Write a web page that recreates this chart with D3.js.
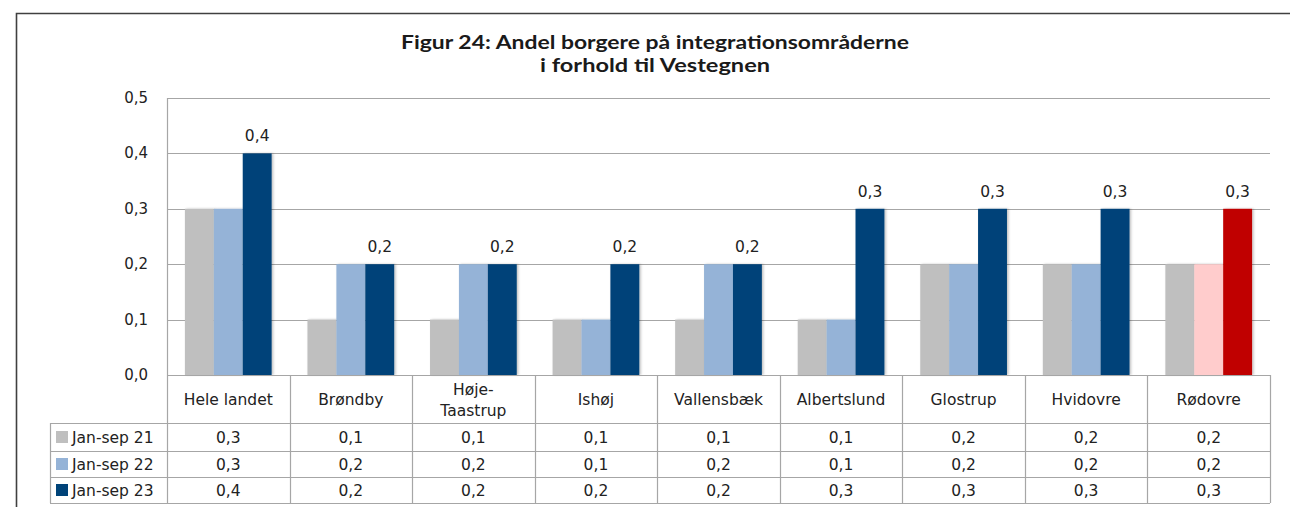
<!DOCTYPE html>
<html><head><meta charset="utf-8">
<script src="https://cdn.jsdelivr.net/npm/d3@7"></script>
<style>body{margin:0;background:#fff}svg{display:block}</style>
</head><body>
<svg id="c" width="1290" height="507"></svg>
<script>
const categories = ["Hele landet","Brøndby","Høje-\nTaastrup","Ishøj","Vallensbæk","Albertslund","Glostrup","Hvidovre","Rødovre"];
const seriesNames = ["Jan-sep 21","Jan-sep 22","Jan-sep 23"];
const s21 = [0.3,0.1,0.1,0.1,0.1,0.1,0.2,0.2,0.2];
const s22 = [0.3,0.2,0.2,0.1,0.2,0.1,0.2,0.2,0.2];
const s23 = [0.4,0.2,0.2,0.2,0.2,0.3,0.3,0.3,0.3];
const yTicks = [0,0.1,0.2,0.3,0.4,0.5];
const colors = ["#BFBFBF","#95B3D7","#004379"];
const highlightColors = ["#BFBFBF","#FFCCCC","#C00000"];
const highlightCat = "Rødovre";
const titleLines = ["Figur 24: Andel borgere på integrationsområderne","i forhold til Vestegnen"];

const series = [s21,s22,s23];
const svg = d3.select("#c");
const fmt = v => d3.format(".1f")(v).replace(".", ",");
const font = "'DejaVu Sans', Verdana, sans-serif";
const fs = 15.5;

// outer frame
svg.append("path").attr("d","M16.5,507 V13.5 H1290").attr("fill","none").attr("stroke","#404040").attr("stroke-width",1.6);

// title
const titleWidths = [508, 230];
svg.append("g").selectAll("text").data(titleLines).join("text")
  .attr("x",655).attr("y",(d,i)=>49+i*23).attr("text-anchor","middle")
  .attr("font-family","Lato, 'Open Sans', sans-serif").attr("font-weight","bold").attr("font-size",19)
  .attr("textLength",(d,i)=>titleWidths[i]).attr("lengthAdjust","spacingAndGlyphs")
  .attr("fill","#1a1a1a").text(d=>d);

const L=167, R=1270, T=98, B=375;
const x0 = d3.scaleBand().domain(categories).range([L,R]).padding(0);
const x1 = d3.scaleBand().domain(seriesNames).range([0,x0.bandwidth()]).paddingInner(0).paddingOuter(0.62);
const y = d3.scaleLinear().domain([0,0.5]).range([B,T]);

// gridlines
svg.append("g").selectAll("line").data(yTicks).join("line")
  .attr("x1",L).attr("x2",R).attr("y1",d=>Math.round(y(d))+0.5).attr("y2",d=>Math.round(y(d))+0.5)
  .attr("stroke","#A6A6A6").attr("stroke-width",1.2);

// y axis labels
svg.append("g").selectAll("text").data(yTicks).join("text")
  .attr("x",148).attr("y",d=>y(d)+5).attr("text-anchor","end")
  .attr("font-family",font).attr("font-size",15).attr("fill","#222").text(fmt);

// shadow filter
const defs = svg.append("defs");
const f = defs.append("filter").attr("id","sh").attr("x","-20%").attr("y","-5%").attr("width","150%").attr("height","110%");
f.append("feDropShadow").attr("dx",1.5).attr("dy",0).attr("stdDeviation",1.2).attr("flood-color","#000").attr("flood-opacity",0.25);

// bars
const g = svg.append("g");
categories.forEach((c,ci)=>{
  seriesNames.forEach((s,si)=>{
    const v = series[si][ci];
    const col = c===highlightCat ? highlightColors[si] : colors[si];
    g.append("rect").attr("x",x0(c)+x1(s)).attr("width",x1.bandwidth())
      .attr("y",y(v)).attr("height",y(0)-y(v)).attr("fill",col).attr("filter","url(#sh)");
  });
  const v3 = series[2][ci];
  g.append("text").attr("x",x0(c)+x1(seriesNames[2])+x1.bandwidth()/2).attr("y",y(v3)-12)
    .attr("text-anchor","middle").attr("font-family",font).attr("font-size",fs).attr("fill","#222").text(fmt(v3));
});

// axis line
svg.append("line").attr("x1",L+0.5).attr("x2",L+0.5).attr("y1",T).attr("y2",B).attr("stroke","#A6A6A6").attr("stroke-width",1.2);

// table
const rowTops = [375,423,451,477,503];
const tbl = svg.append("g").attr("stroke","#A6A6A6").attr("stroke-width",1.2).attr("fill","none");
tbl.append("line").attr("x1",L).attr("x2",R).attr("y1",B+0.5).attr("y2",B+0.5);
[423,451,477,503].forEach(yy=>tbl.append("line").attr("x1",50).attr("x2",R).attr("y1",yy+0.5).attr("y2",yy+0.5));
tbl.append("line").attr("x1",50.5).attr("x2",50.5).attr("y1",423).attr("y2",503);
const bounds = categories.map(c=>x0(c)).concat([R]);
bounds.forEach(xx=>tbl.append("line").attr("x1",Math.round(xx)+0.5).attr("x2",Math.round(xx)+0.5).attr("y1",B).attr("y2",503));

// category labels
categories.forEach(c=>{
  const lines = c.split("\n");
  const cx = x0(c)+x0.bandwidth()/2;
  lines.forEach((ln,i)=>{
    svg.append("text").attr("x",cx).attr("y",405+(i-(lines.length-1)/2)*21)
      .attr("text-anchor","middle").attr("font-family",font).attr("font-size",fs).attr("fill","#222").text(ln);
  });
});

// data rows
seriesNames.forEach((s,si)=>{
  const yc = (rowTops[si+1]+rowTops[si+2])/2;
  svg.append("rect").attr("x",56).attr("y",yc-6).attr("width",12).attr("height",12).attr("fill",colors[si]);
  svg.append("text").attr("x",72).attr("y",yc+6).attr("font-family",font).attr("font-size",fs).attr("fill","#222").text(s);
  categories.forEach((c,ci)=>{
    svg.append("text").attr("x",x0(c)+x0.bandwidth()/2).attr("y",yc+6).attr("text-anchor","middle")
      .attr("font-family",font).attr("font-size",fs).attr("fill","#222").text(fmt(series[si][ci]));
  });
});
</script>
</body></html>
